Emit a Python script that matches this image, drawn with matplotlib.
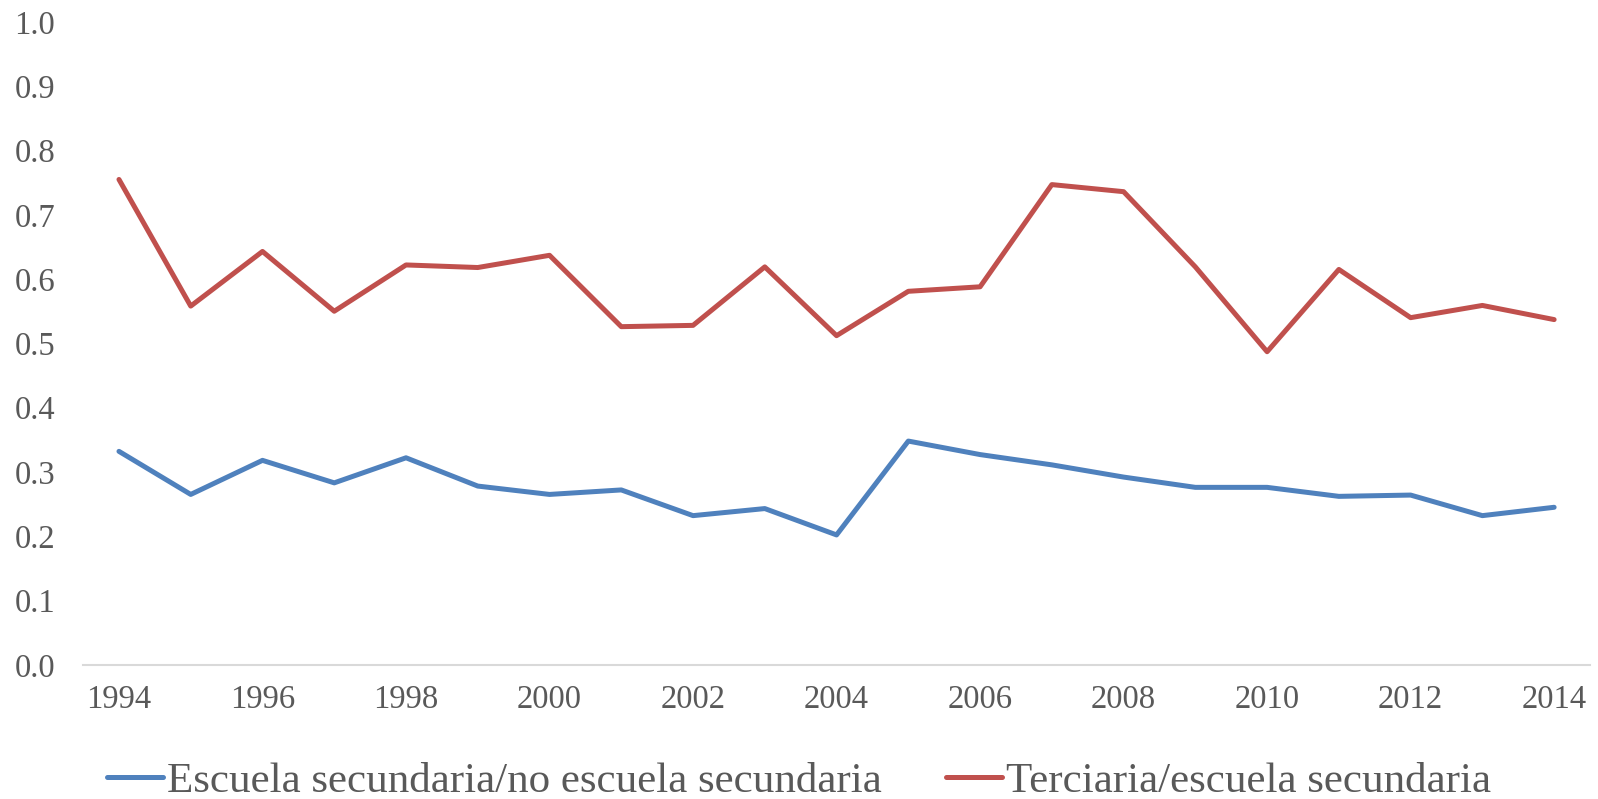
import matplotlib
matplotlib.use("Agg")
import matplotlib.pyplot as plt

plt.rcParams['font.family'] = ['Liberation Serif', 'DejaVu Serif']

years = list(range(1994, 2015))
secundaria = [0.332, 0.265, 0.318, 0.283, 0.322, 0.278, 0.265, 0.272, 0.232, 0.243, 0.202,
              0.348, 0.327, 0.311, 0.292, 0.276, 0.276, 0.262, 0.264, 0.232, 0.245]
terciaria = [0.755, 0.558, 0.643, 0.550, 0.622, 0.618, 0.637, 0.526, 0.528, 0.619, 0.512,
             0.581, 0.588, 0.747, 0.736, 0.619, 0.487, 0.615, 0.540, 0.559, 0.537]
labels = ["Escuela secundaria/no escuela secundaria", "Terciaria/escuela secundaria"]
yticks = [i / 10 for i in range(11)]

gris = '#595959'

fig = plt.figure(figsize=(15.98, 7.99), dpi=100)
ax = fig.add_axes([0.052, 0.168, 0.943, 0.8045])

ax.plot(years, secundaria, color='#4F81BD', linewidth=3.6, label=labels[0], solid_capstyle='round')
ax.plot(years, terciaria, color='#C0504D', linewidth=3.6, label=labels[1], solid_capstyle='round')

ax.set_xlim(1993.5, 2014.5)
ax.set_ylim(0, 1.0)
ax.set_yticks(yticks)
ax.set_yticklabels([f"{v:.1f}" for v in yticks])
ax.set_xticks(years[::2])

for s in ['top', 'right', 'left']:
    ax.spines[s].set_visible(False)
ax.spines['bottom'].set_color('#d9d9d9')
ax.spines['bottom'].set_linewidth(1.5)
ax.tick_params(axis='both', length=0, labelsize=23.5, colors=gris)
ax.tick_params(axis='x', pad=14)
ax.tick_params(axis='y', pad=20)

fig.legend(loc='center', bbox_to_anchor=(0.5, 0.0225), ncol=2, frameon=False,
           fontsize=31, labelcolor=gris, handlelength=1.3, handletextpad=0.1,
           columnspacing=1.5, borderaxespad=0)

fig.savefig('out.png', dpi=100)
